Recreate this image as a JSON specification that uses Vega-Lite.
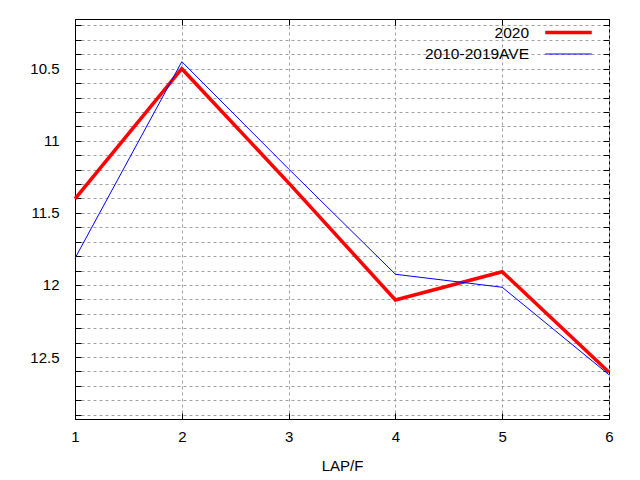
{
  "$schema": "https://vega.github.io/schema/vega-lite/v6.json",
  "autosize": {"type": "none"},
  "width": 534,
  "height": 400,
  "padding": {"left": 75, "top": 19, "right": 31, "bottom": 61},
  "background": "white",
  "config": {
    "view": {"stroke": "black", "strokeWidth": 1},
    "font": "Liberation Sans",
    "axis": {
      "labelFont": "Liberation Sans",
      "labelFontSize": 15,
      "labelColor": "black",
      "titleFont": "Liberation Sans",
      "titleFontSize": 15,
      "titleFontWeight": "normal",
      "titleColor": "black",
      "domainColor": "black",
      "tickColor": "black",
      "gridColor": "#a0a0a0",
      "gridDash": [3, 3],
      "gridWidth": 1
    },
    "legend": {
      "title": null,
      "orient": "none",
      "legendX": 484,
      "legendY": 4,
      "symbolType": "M-3.1,0H3.1",
      "symbolSize": 225,
      "labelAlign": "right",
      "labelOffset": -49,
      "labelFont": "Liberation Sans",
      "labelFontSize": 15.5,
      "labelColor": "black",
      "rowPadding": 5,
      "padding": 0
    }
  },
  "data": {
    "values": [
      {"lap": 1, "time": 11.403, "series": "2020"},
      {"lap": 2, "time": 10.5, "series": "2020"},
      {"lap": 3, "time": 11.292, "series": "2020"},
      {"lap": 4, "time": 12.104, "series": "2020"},
      {"lap": 5, "time": 11.908, "series": "2020"},
      {"lap": 6, "time": 12.606, "series": "2020"},
      {"lap": 1, "time": 11.815, "series": "2010-2019AVE"},
      {"lap": 2, "time": 10.451, "series": "2010-2019AVE"},
      {"lap": 3, "time": 11.195, "series": "2010-2019AVE"},
      {"lap": 4, "time": 11.926, "series": "2010-2019AVE"},
      {"lap": 5, "time": 12.016, "series": "2010-2019AVE"},
      {"lap": 6, "time": 12.623, "series": "2010-2019AVE"}
    ]
  },
  "resolve": {"axis": {"x": "independent", "y": "independent"}},
  "layer": [
    {
      "mark": {"type": "line", "strokeCap": "butt", "strokeJoin": "miter"},
      "encoding": {
        "x": {
          "field": "lap", "type": "quantitative",
          "scale": {"domain": [1, 6], "nice": false, "zero": false},
          "axis": {
            "title": "LAP/F",
            "values": [1, 2, 3, 4, 5, 6],
            "grid": true,
            "tickSize": -6,
            "labelPadding": 16,
            "labelFlush": false,
            "titleY": 51,
            "titleBaseline": "alphabetic"
          }
        },
        "y": {
          "field": "time", "type": "quantitative",
          "scale": {"domain": [10.155, 12.93], "nice": false, "zero": false, "reverse": true},
          "axis": {
            "title": null,
            "values": [10.2, 10.3, 10.4, 10.5, 10.6, 10.7, 10.8, 10.9, 11.0, 11.1, 11.2, 11.3, 11.4, 11.5, 11.6, 11.7, 11.8, 11.9, 12.0, 12.1, 12.2, 12.3, 12.4, 12.5, 12.6, 12.7, 12.8, 12.9],
            "labelExpr": "abs(datum.value*2 - round(datum.value*2)) < 0.001 ? '' + round(datum.value*10)/10 : ''",
            "grid": true,
            "tickSize": -6,
            "labelFlush": false,
            "labelPadding": 22
          }
        },
        "color": {
          "field": "series", "type": "nominal",
          "scale": {"domain": ["2020", "2010-2019AVE"], "range": ["#ff0000", "#0000ff"]},
          "legend": {"title": null}
        },
        "strokeWidth": {
          "field": "series", "type": "nominal",
          "scale": {"domain": ["2020", "2010-2019AVE"], "range": [3.5, 1]},
          "legend": {"title": null}
        },
        "order": {"field": "lap", "type": "quantitative"}
      }
    },
    {
      "mark": {"type": "line", "opacity": 0},
      "encoding": {
        "x": {
          "field": "lap", "type": "quantitative",
          "scale": {"domain": [1, 6], "nice": false, "zero": false},
          "axis": {"orient": "top", "title": null, "labels": false, "grid": false, "domain": false, "tickSize": -6, "values": [1, 2, 3, 4, 5, 6]}
        },
        "y": {
          "field": "time", "type": "quantitative",
          "scale": {"domain": [10.155, 12.93], "nice": false, "zero": false, "reverse": true},
          "axis": {"orient": "right", "title": null, "labels": false, "grid": false, "domain": false, "tickSize": -6,
            "values": [10.2, 10.3, 10.4, 10.5, 10.6, 10.7, 10.8, 10.9, 11.0, 11.1, 11.2, 11.3, 11.4, 11.5, 11.6, 11.7, 11.8, 11.9, 12.0, 12.1, 12.2, 12.3, 12.4, 12.5, 12.6, 12.7, 12.8, 12.9]}
        },
        "detail": {"field": "series", "type": "nominal"}
      }
    }
  ]
}
